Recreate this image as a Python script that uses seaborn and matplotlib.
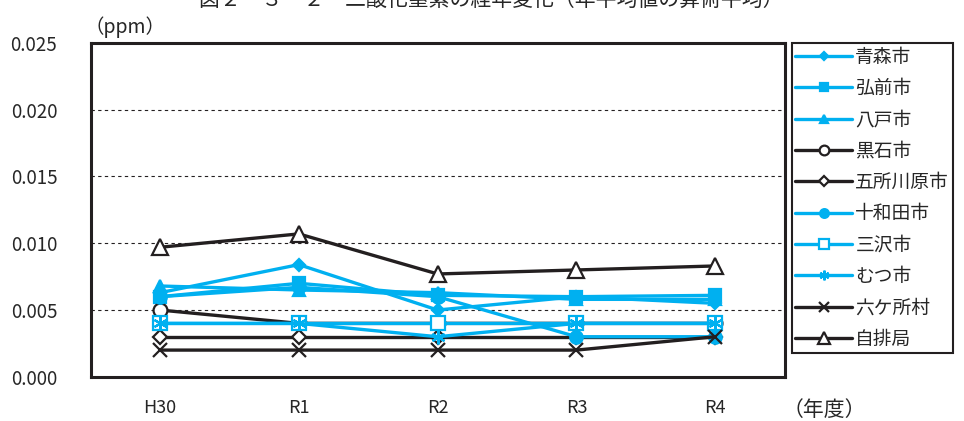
import matplotlib
matplotlib.use('Agg')
import numpy as np
import pandas as pd
import matplotlib.pyplot as plt
import seaborn as sns

sns.set_style('white')
plt.rcParams['font.family'] = ['Noto Sans CJK JP', 'DejaVu Sans']

years = ['H30', 'R1', 'R2', 'R3', 'R4']

aomori     = [0.0063, 0.0084, 0.0050, 0.0060, 0.0055]
hirosaki   = [0.0060, 0.0070, 0.0061, 0.0060, 0.0061]
hachinohe  = [0.0068, 0.0065, 0.0063, 0.0058, 0.0058]
kuroishi   = [0.0050, 0.0040, 0.0040, 0.0040, 0.0040]
goshogawara = [0.0030, 0.0030, 0.0030, 0.0030, 0.0030]
towada     = [0.0060, 0.0067, 0.0060, 0.0030, 0.0030]
misawa     = [0.0040, 0.0040, 0.0040, 0.0040, 0.0040]
mutsu      = [0.0040, 0.0040, 0.0030, 0.0040, 0.0040]
rokkasho   = [0.0020, 0.0020, 0.0020, 0.0020, 0.0030]
jihaikyoku = [0.0097, 0.0107, 0.0077, 0.0080, 0.0083]

BLUE = '#00B0F0'
BLACK = '#231F20'

# name, values, color, marker, face, size
series = [
    ('青森市', aomori, BLUE, 'D', BLUE, 6),
    ('弘前市', hirosaki, BLUE, 's', BLUE, 9),
    ('八戸市', hachinohe, BLUE, '^', BLUE, 8),
    ('黒石市', kuroishi, BLACK, 'o', 'white', 10),
    ('五所川原市', goshogawara, BLACK, 'D', 'white', 7),
    ('十和田市', towada, BLUE, 'o', BLUE, 9),
    ('三沢市', misawa, BLUE, 's', 'white', 10),
    ('むつ市', mutsu, BLUE, (6, 2, 0), BLUE, 10),
    ('六ケ所村', rokkasho, BLACK, 'x', BLACK, 10),
    ('自排局', jihaikyoku, BLACK, '^', 'white', 12),
]

fig = plt.figure(figsize=(9.64, 4.21), dpi=100)
ax = fig.add_axes([0.094, 0.105, 0.720, 0.793])

for name, vals, col, mk, face, ms in series:
    df = pd.DataFrame({'year': years, 'ppm': vals})
    sns.lineplot(data=df, x='year', y='ppm', ax=ax, color=col, linewidth=2.4,
                 marker=mk, markersize=ms, markerfacecolor=face,
                 markeredgecolor=col, markeredgewidth=1.6, label=name)

ax.set_xlim(-0.5, 4.5)
ax.set_ylim(0, 0.025)
ax.set_yticks(np.arange(0, 0.0251, 0.005))
ax.set_yticklabels([f'{v:.3f}' for v in np.arange(0, 0.0251, 0.005)], fontsize=13.5)
ax.tick_params(axis='x', labelsize=13, pad=16, length=0)
ax.tick_params(axis='y', pad=24, length=0)
for yv in [0.005, 0.010, 0.015, 0.020]:
    ax.axhline(yv, color=BLACK, linestyle=(0, (3, 3)), linewidth=0.8, zorder=0)
for sp in ax.spines.values():
    sp.set_visible(True)
    sp.set_color(BLACK)
    sp.set_linewidth(2.2)
ax.set_xlabel('')
ax.set_ylabel('')

leg = ax.legend(loc='upper left', bbox_to_anchor=(1.01, 1.0), frameon=True,
                fancybox=False, edgecolor=BLACK, framealpha=1, fontsize=13.5,
                handlelength=3.0, handletextpad=0.2, labelspacing=0.55,
                borderpad=0.2, borderaxespad=0, markerscale=0.7)
leg.get_frame().set_linewidth(1.5)

fig.text(0.088, 0.935, '（ppm）', fontsize=14, ha='left', va='center')
fig.text(0.812, 0.025, '（年度）', fontsize=15, ha='left', va='center')
fig.text(0.51, 1.0, '図２－３－２　二酸化窒素の経年変化（年平均値の算術平均）',
         fontsize=15, ha='center', va='center')

fig.savefig('out.png', dpi=100)
